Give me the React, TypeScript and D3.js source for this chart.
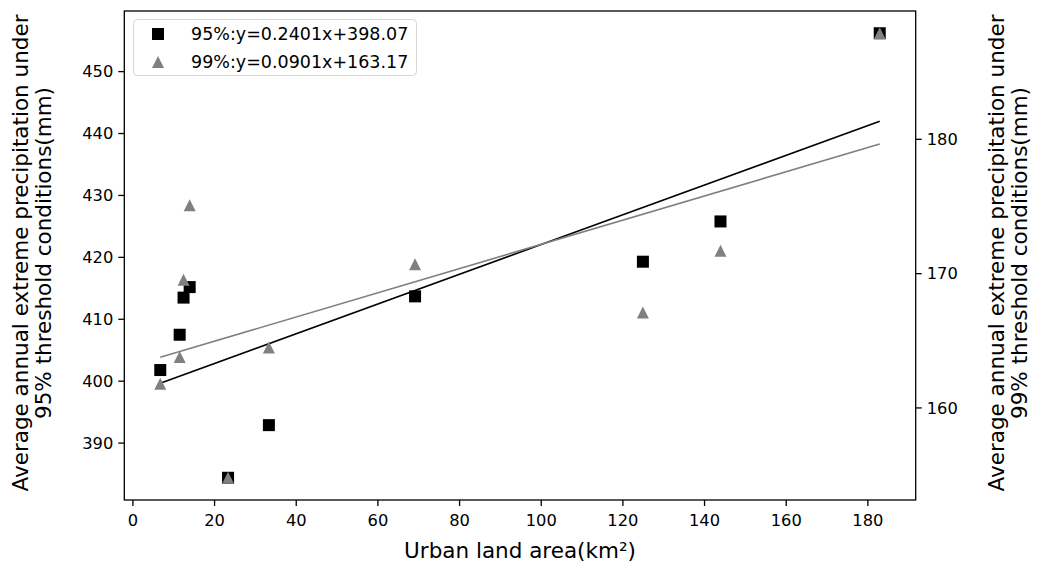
import React from 'react';
import * as d3 from 'd3';

// urban land area (km²) for each station / city
const urbanArea = [6.7, 11.45, 12.4, 13.9, 23.3, 33.3, 69.1, 124.9, 143.9, 182.9];
// average annual extreme precipitation (mm), 95% threshold — left axis
const precip95 = [401.8, 407.5, 413.5, 415.2, 384.4, 392.9, 413.7, 419.3, 425.8, 456.2];
// average annual extreme precipitation (mm), 99% threshold — right axis
const precip99 = [161.8, 163.8, 169.55, 175.1, 154.8, 164.5, 170.7, 167.1, 171.7, 187.9];

// linear fits shown in the legend
const fitSlope = [0.2401, 0.0901];
const fitIntercept = [398.07, 163.17];
const legendLabels = ['95%:y=0.2401x+398.07', '99%:y=0.0901x+163.17'];

const xTicks = [0, 20, 40, 60, 80, 100, 120, 140, 160, 180];
const yLeftTicks = [390, 400, 410, 420, 430, 440, 450];
const yRightTicks = [160, 170, 180];

const width = 1040;
const height = 567;
const margin = { left: 124.3, right: 1040 - 915.7, top: 11, bottom: 567 - 500 };
const font = '"DejaVu Sans", sans-serif';
const gray = '#808080';
const labelSize = 21.5;

// matplotlib-style auto limits: data extent plus 5% each side
const padded = (vals: number[]): [number, number] => {
  const [lo, hi] = d3.extent(vals) as [number, number];
  const p = (hi - lo) * 0.05;
  return [lo - p, hi + p];
};

const triangle = (s: number) => `M0,${-s / 2}L${s / 2},${s / 2}L${-s / 2},${s / 2}Z`;

const App = () => {
  const x = d3.scaleLinear().domain(padded(urbanArea)).range([margin.left, width - margin.right]);
  const yL = d3.scaleLinear().domain(padded(precip95)).range([height - margin.bottom, margin.top]);
  const yR = d3.scaleLinear().domain(padded(precip99)).range([height - margin.bottom, margin.top]);

  const [xMin, xMax] = d3.extent(urbanArea) as [number, number];
  const fitLine = (k: number, yScale: d3.ScaleLinear<number, number>) =>
    d3
      .line<number>()
      .x((v) => x(v))
      .y((v) => yScale(fitSlope[k] * v + fitIntercept[k]))([xMin, xMax]) as string;

  const left = margin.left;
  const right = width - margin.right;
  const top = margin.top;
  const bottom = height - margin.bottom;
  const midY = 253;
  const tick = 6;
  const sq = 12;

  return (
    <svg
      width={width}
      height={height}
      style={{ position: 'absolute', left: 0, top: 0, background: '#fff' }}
      fontFamily={font}
    >
      <rect width={width} height={height} fill="#fff" />

      {/* 95% points and fit */}
      {urbanArea.map((v, i) => (
        <rect key={'s' + i} x={x(v) - sq / 2} y={yL(precip95[i]) - sq / 2} width={sq} height={sq} fill="#000" />
      ))}
      <path d={fitLine(0, yL)} stroke="#000" strokeWidth={1.6} fill="none" />

      {/* 99% points and fit */}
      {urbanArea.map((v, i) => (
        <path key={'t' + i} d={triangle(12)} transform={`translate(${x(v)},${yR(precip99[i])})`} fill={gray} />
      ))}
      <path d={fitLine(1, yR)} stroke={gray} strokeWidth={1.6} fill="none" />

      {/* frame */}
      <rect x={left} y={top} width={right - left} height={bottom - top} fill="none" stroke="#000" strokeWidth={1.3} />

      {/* x axis */}
      {xTicks.map((t) => (
        <g key={'x' + t}>
          <line x1={x(t)} x2={x(t)} y1={bottom} y2={bottom + tick} stroke="#000" strokeWidth={1.3} />
          <text x={x(t)} y={bottom + 26} textAnchor="middle" fontSize={16.3}>
            {t}
          </text>
        </g>
      ))}
      <text x={(left + right) / 2} y={558} textAnchor="middle" fontSize={labelSize}>
        Urban land area(km²)
      </text>

      {/* left axis */}
      {yLeftTicks.map((t) => (
        <g key={'l' + t}>
          <line x1={left - tick} x2={left} y1={yL(t)} y2={yL(t)} stroke="#000" strokeWidth={1.3} />
          <text x={left - tick - 5} y={yL(t) + 5.8} textAnchor="end" fontSize={16.3}>
            {t}
          </text>
        </g>
      ))}
      <text transform={`translate(28,${midY}) rotate(-90)`} textAnchor="middle" fontSize={labelSize}>
        Average annual extreme precipitation under
      </text>
      <text transform={`translate(51,${midY}) rotate(-90)`} textAnchor="middle" fontSize={labelSize}>
        95% threshold conditions(mm)
      </text>

      {/* right axis */}
      {yRightTicks.map((t) => (
        <g key={'r' + t}>
          <line x1={right} x2={right + tick} y1={yR(t)} y2={yR(t)} stroke="#000" strokeWidth={1.3} />
          <text x={right + tick + 5} y={yR(t) + 5.8} textAnchor="start" fontSize={16.3}>
            {t}
          </text>
        </g>
      ))}
      <text transform={`translate(1004,${midY}) rotate(-90)`} textAnchor="middle" fontSize={labelSize}>
        Average annual extreme precipitation under
      </text>
      <text transform={`translate(1027,${midY}) rotate(-90)`} textAnchor="middle" fontSize={labelSize}>
        99% threshold conditions(mm)
      </text>

      {/* legend */}
      <rect x={133.5} y={19.5} width={283} height={56} rx={4} fill="#fff" fillOpacity={0.8} stroke="#d6d6d6" />
      <rect x={158 - sq / 2} y={34 - sq / 2} width={sq} height={sq} fill="#000" />
      <path d={triangle(12)} transform="translate(158,62)" fill={gray} />
      {legendLabels.map((l, i) => (
        <text key={l} x={191} y={34 + i * 28 + 6.3} fontSize={17.5}>
          {l}
        </text>
      ))}
    </svg>
  );
};

export default App;
